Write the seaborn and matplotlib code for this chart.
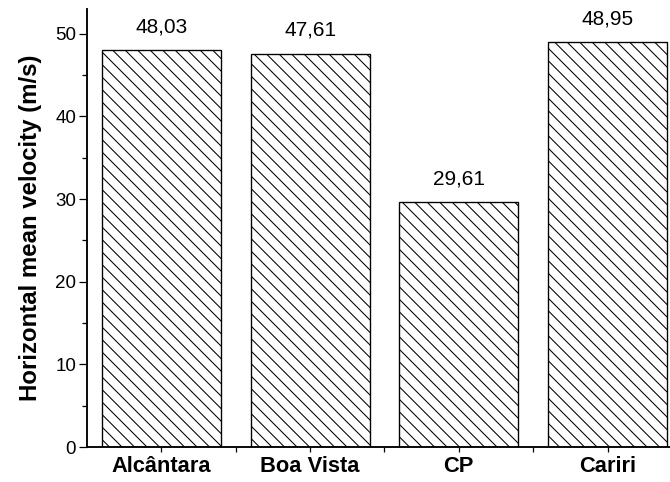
import matplotlib
matplotlib.use("Agg")
import matplotlib.pyplot as plt
from matplotlib.ticker import MultipleLocator, FixedLocator
import seaborn as sns
import pandas as pd

# --- data ---
sites = ["Alcântara", "Boa Vista", "CP", "Cariri"]
velocity = [48.03, 47.61, 29.61, 48.95]
value_labels = ["48,03", "47,61", "29,61", "48,95"]

sns.set_style("ticks")
plt.rcParams["font.family"] = ["Liberation Sans", "DejaVu Sans"]
plt.rcParams["hatch.linewidth"] = 1.0
plt.rcParams["hatch.color"] = "black"
for key in ["text.color", "axes.labelcolor", "xtick.color", "ytick.color", "axes.edgecolor"]:
    plt.rcParams[key] = "black"

df = pd.DataFrame({"site": sites, "velocity": velocity})

fig = plt.figure(figsize=(670 / 75, 482 / 75), dpi=75)
ax = fig.add_axes([87 / 670, 35 / 482, 1 - 87 / 670, 438 / 482])

sns.barplot(data=df, x="site", y="velocity", color="white", saturation=1,
            edgecolor="black", linewidth=1.3, hatch="\\\\", width=0.8, ax=ax)

# value labels above the bars
for i, (v, lab) in enumerate(zip(velocity, value_labels)):
    ax.annotate(lab, (i, v), xytext=(0, 17), textcoords="offset points",
                ha="center", va="baseline", fontsize=20)

ax.set_xlim(-0.5, 3.42)
ax.set_ylim(0, 53)
ax.yaxis.set_major_locator(MultipleLocator(10))
ax.yaxis.set_minor_locator(MultipleLocator(5))
ax.xaxis.set_minor_locator(FixedLocator([0.5, 1.5, 2.5]))

ax.tick_params(axis="y", which="major", length=7.5, width=1.2, labelsize=18, pad=3)
ax.tick_params(axis="y", which="minor", length=5, width=1.2)
ax.tick_params(axis="x", which="both", length=5, width=1.2, pad=4)
for t in ax.get_xticklabels():
    t.set_fontsize(21)
    t.set_fontweight("bold")

ax.set_xlabel("")
ax.set_ylabel("Horizontal mean velocity (m/s)", fontsize=23, fontweight="bold", labelpad=13)

for s in ["top", "right"]:
    ax.spines[s].set_visible(False)
for s in ["left", "bottom"]:
    ax.spines[s].set_linewidth(1.8)

fig.savefig("out.png", dpi=75)
